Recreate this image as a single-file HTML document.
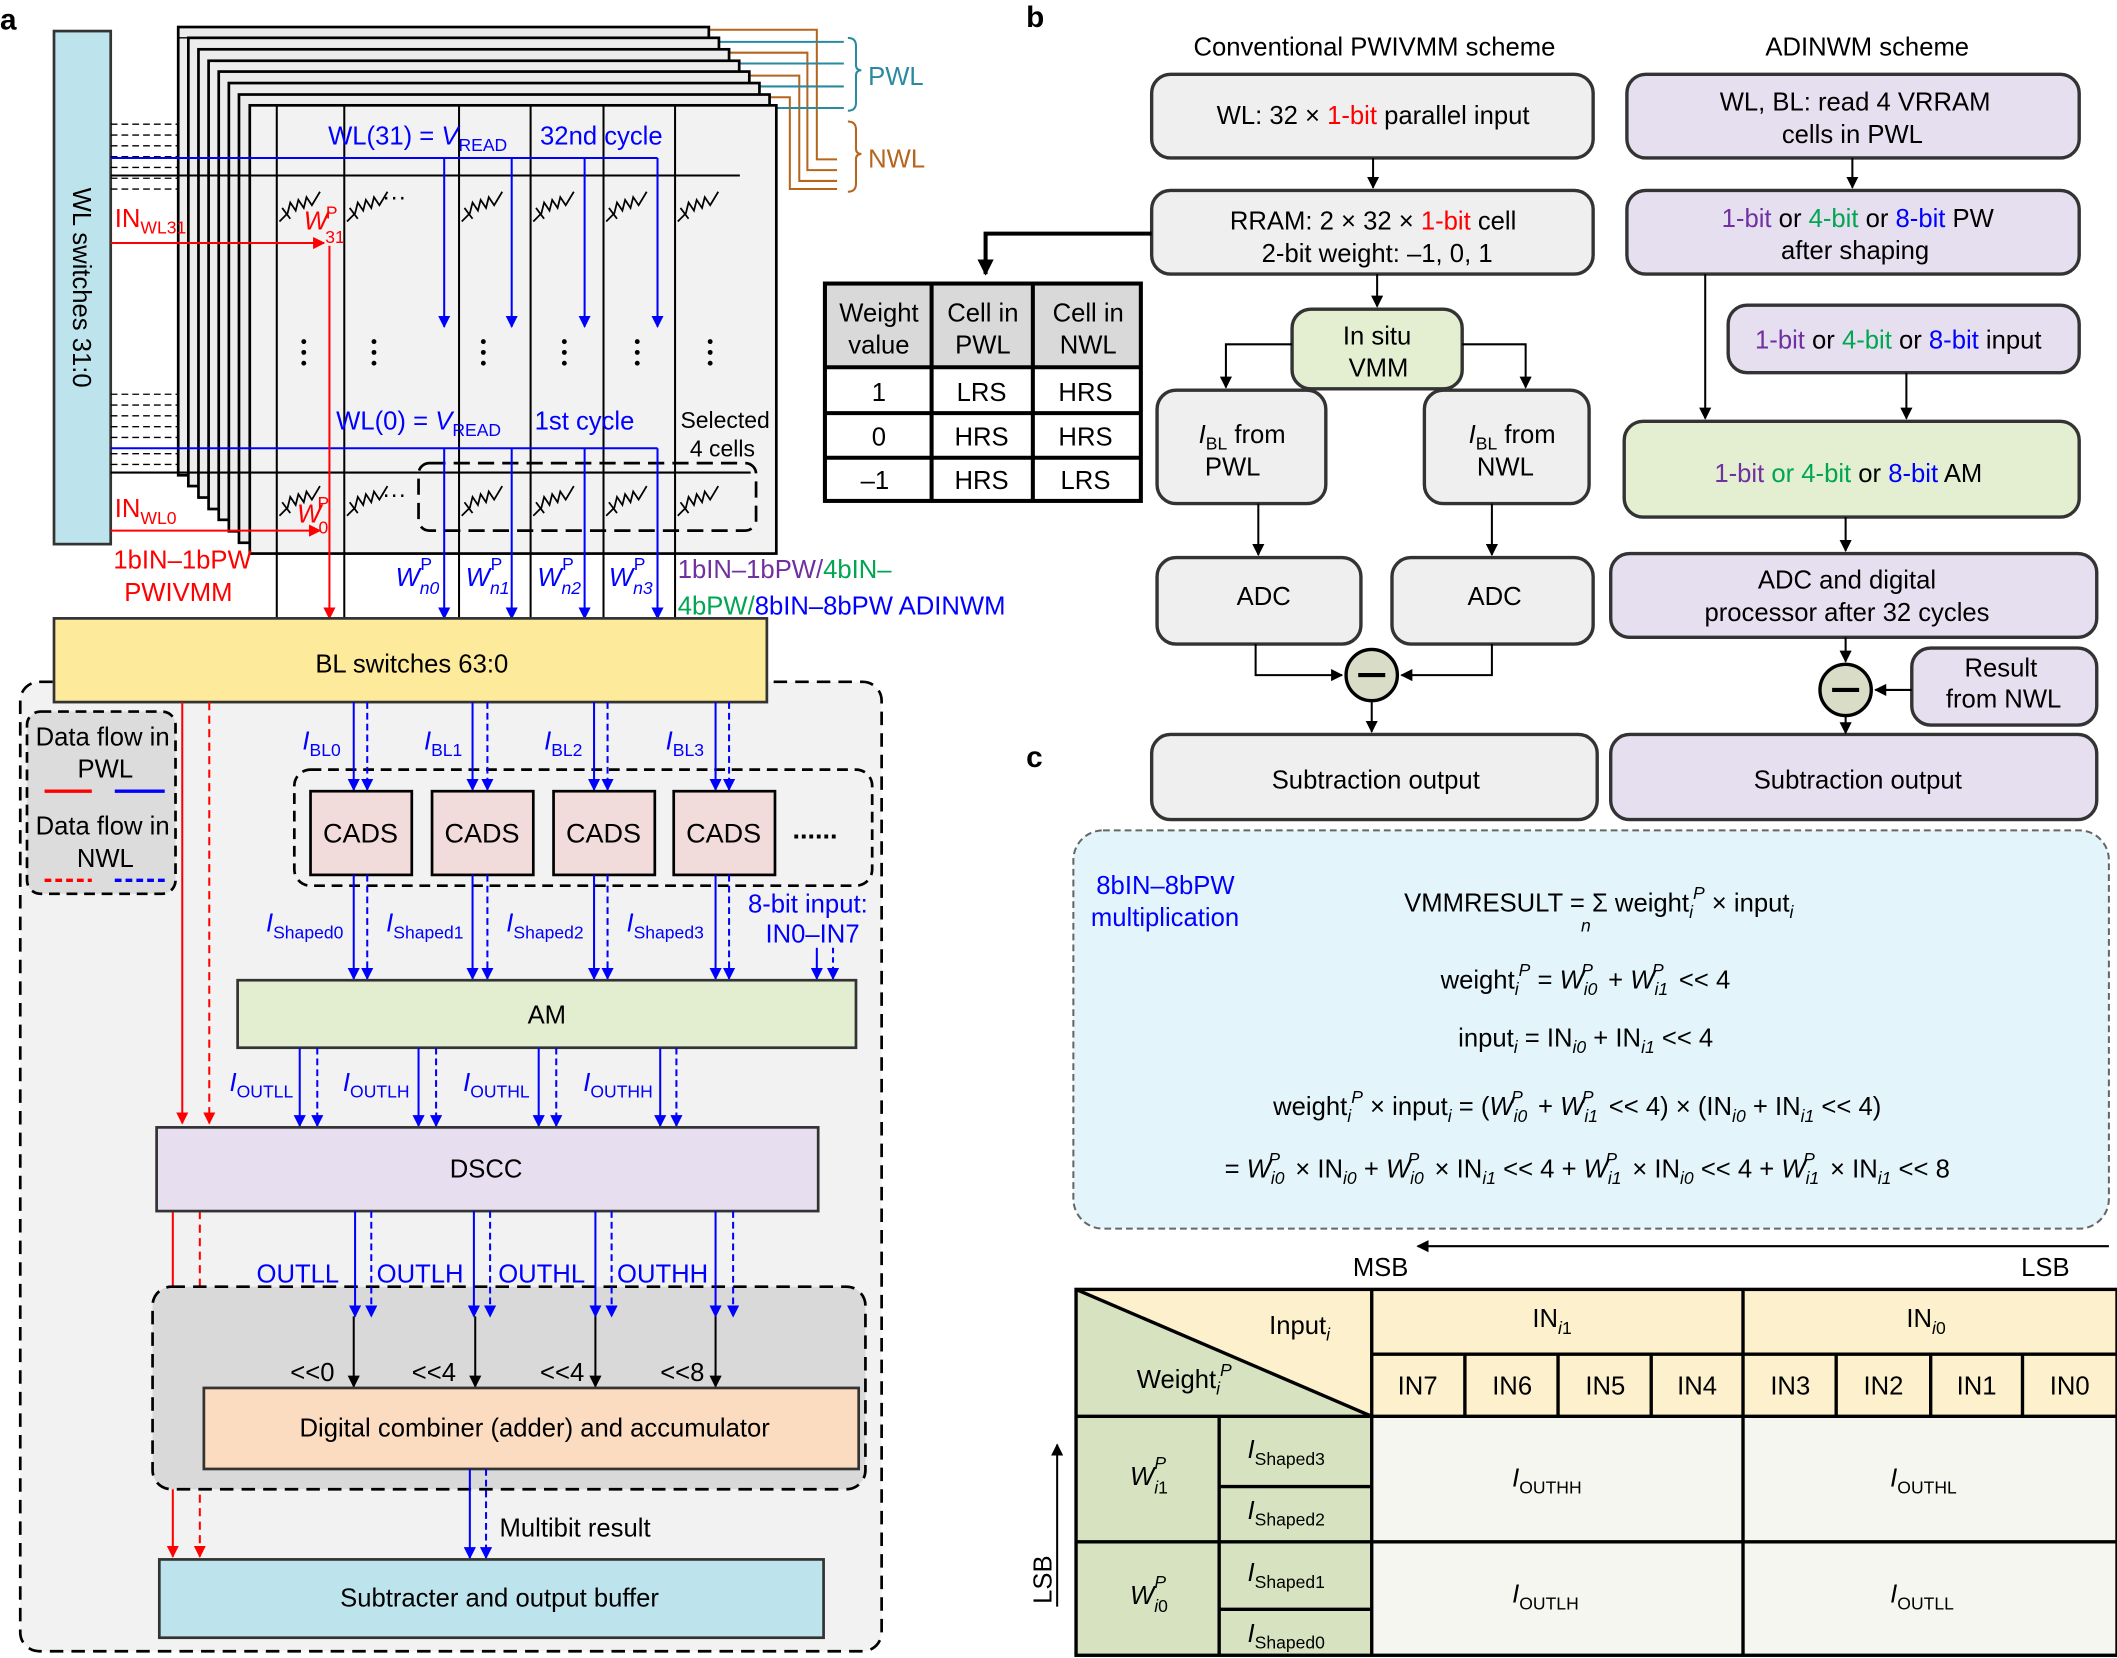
<!DOCTYPE html>
<html><head><meta charset="utf-8"><style>
html,body{margin:0;padding:0;background:#fff}
svg{display:block}
text{font-family:"Liberation Sans",sans-serif;font-size:19px;fill:#000}
.b{fill:#0000ff}.r{fill:#ff0000}.p{fill:#7030a0}.g{fill:#00a651}
.c{text-anchor:middle}
</style></head><body>
<svg width="2117" height="1658" viewBox="0 0 1568 1228" xmlns="http://www.w3.org/2000/svg">
<defs>
<marker id="ab" viewBox="0 0 10 10" refX="9" refY="5" markerWidth="6" markerHeight="6" orient="auto"><path d="M0,0L10,5L0,10z" fill="#0000ff"/></marker>
<marker id="ar" viewBox="0 0 10 10" refX="9" refY="5" markerWidth="6" markerHeight="6" orient="auto"><path d="M0,0L10,5L0,10z" fill="#ff0000"/></marker>
<marker id="ak" viewBox="0 0 10 10" refX="9" refY="5" markerWidth="6" markerHeight="6" orient="auto"><path d="M0,0L10,5L0,10z" fill="#000"/></marker>
<marker id="ak2" viewBox="0 0 10 10" refX="9" refY="5" markerWidth="4" markerHeight="4" orient="auto"><path d="M0,0L10,5L0,10z" fill="#000"/></marker>
<g id="res"><path d="M0,16 L6,10 L8,2 L12,8 L14,0 L18,6 L20,-2 L24,4 L30,-6" fill="none" stroke="#000" stroke-width="1.3"/><path d="M2,6 L8,14" stroke="#000" stroke-width="1.3"/></g>
</defs>

<!-- ===== Panel a ===== -->
<text x="0" y="22" style="font-weight:bold;font-size:22px">a</text>
<rect x="40" y="23" width="42" height="380" fill="#bde3ec" stroke="#333" stroke-width="2"/>
<text transform="translate(54,213) rotate(90)" class="c" style="font-size:19px">WL switches 31:0</text>

<!-- dashed WL stubs -->
<g stroke="#000" stroke-width="1" stroke-dasharray="5,3">
<line x1="82" y1="92" x2="140" y2="92"/><line x1="82" y1="100" x2="148" y2="100"/><line x1="82" y1="108" x2="155" y2="108"/><line x1="82" y1="116" x2="162" y2="116"/><line x1="82" y1="124" x2="170" y2="124"/><line x1="82" y1="132" x2="178" y2="132"/><line x1="82" y1="140" x2="185" y2="140"/>
<line x1="82" y1="292" x2="140" y2="292"/><line x1="82" y1="300" x2="148" y2="300"/><line x1="82" y1="308" x2="155" y2="308"/><line x1="82" y1="316" x2="162" y2="316"/><line x1="82" y1="324" x2="170" y2="324"/><line x1="82" y1="336" x2="178" y2="336"/><line x1="82" y1="344" x2="185" y2="344"/>
</g>

<!-- brackets PWL/NWL -->
<g fill="none" stroke-width="1.5">
<path d="M522,22 H605 V118 H620" stroke="#b5651d"/>
<path d="M530,31 H625" stroke="#2a8aa0"/>
<path d="M537,39 H598 V126 H620" stroke="#b5651d"/>
<path d="M545,47 H625" stroke="#2a8aa0"/>
<path d="M552,56 H592 V134 H620" stroke="#b5651d"/>
<path d="M560,64 H625" stroke="#2a8aa0"/>
<path d="M567,72 H585 V140 H620" stroke="#b5651d"/>
<path d="M575,80 H625" stroke="#2a8aa0"/>
<path d="M628,28 q6,0 6,6 v14 q0,4 4,4 q-4,0 -4,4 v20 q0,6 -6,6" stroke="#2a8aa0"/>
<path d="M628,90 q6,0 6,6 v14 q0,4 4,4 q-4,0 -4,4 v18 q0,6 -6,6" stroke="#b5651d"/>
</g>
<text x="643" y="63" style="fill:#2a8aa0">PWL</text>
<text x="643" y="124" style="fill:#b5651d">NWL</text>

<!-- layer stack -->
<g stroke="#000" stroke-width="2" fill="#ececec">
<rect x="132" y="20" width="393" height="332"/>
<rect x="139.5" y="28" width="393" height="332"/>
<rect x="147" y="36.5" width="393" height="332"/>
<rect x="154.5" y="45" width="393" height="332"/>
<rect x="162" y="53" width="393" height="332"/>
<rect x="169.5" y="61.5" width="393" height="332"/>
<rect x="177" y="70" width="393" height="332"/>
<rect x="185" y="78" width="390" height="332" fill="#f2f2f2"/>
</g>
<g stroke="#000" stroke-width="1">
<line x1="132" y1="28" x2="525" y2="28"/>
</g>
<!-- bit lines -->
<g stroke="#000" stroke-width="1.5">
<line x1="205" y1="78" x2="205" y2="458"/><line x1="255" y1="78" x2="255" y2="458"/><line x1="340" y1="78" x2="340" y2="458"/><line x1="393" y1="78" x2="393" y2="458"/><line x1="447" y1="78" x2="447" y2="458"/><line x1="500" y1="78" x2="500" y2="458"/>
<line x1="82" y1="130" x2="548" y2="130"/>
<line x1="82" y1="350" x2="556" y2="350"/>
</g>
<!-- resistors -->
<use href="#res" x="207" y="148"/><use href="#res" x="257" y="148"/><use href="#res" x="342" y="148"/><use href="#res" x="395" y="148"/><use href="#res" x="449" y="148"/><use href="#res" x="502" y="148"/>
<use href="#res" x="207" y="366"/><use href="#res" x="257" y="366"/><use href="#res" x="342" y="366"/><use href="#res" x="395" y="366"/><use href="#res" x="449" y="366"/><use href="#res" x="502" y="366"/>
<text x="283" y="152" style="font-size:18px">···</text>
<text x="283" y="372" style="font-size:18px">···</text>
<g fill="#000">
<circle cx="225" cy="253" r="1.8"/><circle cx="225" cy="261" r="1.8"/><circle cx="225" cy="269" r="1.8"/>
<circle cx="277" cy="253" r="1.8"/><circle cx="277" cy="261" r="1.8"/><circle cx="277" cy="269" r="1.8"/>
<circle cx="358" cy="253" r="1.8"/><circle cx="358" cy="261" r="1.8"/><circle cx="358" cy="269" r="1.8"/>
<circle cx="418" cy="253" r="1.8"/><circle cx="418" cy="261" r="1.8"/><circle cx="418" cy="269" r="1.8"/>
<circle cx="472" cy="253" r="1.8"/><circle cx="472" cy="261" r="1.8"/><circle cx="472" cy="269" r="1.8"/>
<circle cx="526" cy="253" r="1.8"/><circle cx="526" cy="261" r="1.8"/><circle cx="526" cy="269" r="1.8"/>
</g>
<rect x="310" y="343" width="250" height="50" rx="8" fill="none" stroke="#000" stroke-width="2" stroke-dasharray="12,6"/>
<!-- blue lines -->
<g stroke="#0000ff" stroke-width="1.5" fill="none">
<path d="M82,117 H487"/>
<line x1="329" y1="117" x2="329" y2="242" marker-end="url(#ab)"/><line x1="379" y1="117" x2="379" y2="242" marker-end="url(#ab)"/><line x1="433" y1="117" x2="433" y2="242" marker-end="url(#ab)"/><line x1="487" y1="117" x2="487" y2="242" marker-end="url(#ab)"/>
<path d="M82,332 H487"/>
<line x1="329" y1="332" x2="329" y2="458" marker-end="url(#ab)"/><line x1="379" y1="332" x2="379" y2="458" marker-end="url(#ab)"/><line x1="433" y1="332" x2="433" y2="458" marker-end="url(#ab)"/><line x1="487" y1="332" x2="487" y2="458" marker-end="url(#ab)"/>
</g>
<text x="243" y="107" class="b">WL(31) = <tspan font-style="italic">V</tspan><tspan dy="5" style="font-size:13px">READ</tspan></text>
<text x="400" y="107" class="b">32nd cycle</text>
<text x="249" y="318" class="b">WL(0) = <tspan font-style="italic">V</tspan><tspan dy="5" style="font-size:13px">READ</tspan></text>
<text x="396" y="318" class="b">1st cycle</text>
<text x="504" y="317" style="font-size:17px">Selected</text>
<text x="511" y="338" style="font-size:17px">4 cells</text>
<!-- red -->
<g stroke="#ff0000" stroke-width="1.5" fill="none">
<line x1="82" y1="180" x2="240" y2="180" marker-end="url(#ar)"/>
<line x1="244" y1="182" x2="244" y2="458" marker-end="url(#ar)"/>
<line x1="82" y1="393" x2="237" y2="393" marker-end="url(#ar)"/>
</g>
<text x="85" y="168" class="r">IN<tspan dy="5" style="font-size:13px">WL31</tspan></text>
<text x="225" y="170" class="r" font-style="italic">W<tspan dx="-2" dy="10" style="font-size:13px;font-style:normal">31</tspan><tspan dx="-14" dy="-18" style="font-size:13px;font-style:normal">P</tspan></text>
<text x="85" y="383" class="r">IN<tspan dy="5" style="font-size:13px">WL0</tspan></text>
<text x="220" y="387" class="r" font-style="italic">W<tspan dx="-2" dy="8" style="font-size:13px;font-style:normal">0</tspan><tspan dx="-8" dy="-18" style="font-size:13px;font-style:normal">P</tspan></text>
<text x="84" y="421" class="r">1bIN–1bPW</text>
<text x="92" y="445" class="r">PWIVMM</text>
<text x="293" y="434" class="b" font-style="italic">W<tspan dy="6" style="font-size:13px">n0</tspan><tspan dx="-14" dy="-18" style="font-size:13px;font-style:normal">P</tspan></text>
<text x="345" y="434" class="b" font-style="italic">W<tspan dy="6" style="font-size:13px">n1</tspan><tspan dx="-14" dy="-18" style="font-size:13px;font-style:normal">P</tspan></text>
<text x="398" y="434" class="b" font-style="italic">W<tspan dy="6" style="font-size:13px">n2</tspan><tspan dx="-14" dy="-18" style="font-size:13px;font-style:normal">P</tspan></text>
<text x="451" y="434" class="b" font-style="italic">W<tspan dy="6" style="font-size:13px">n3</tspan><tspan dx="-14" dy="-18" style="font-size:13px;font-style:normal">P</tspan></text>
<text x="502" y="428"><tspan class="p">1bIN–1bPW/</tspan><tspan class="g">4bIN–</tspan></text>
<text x="502" y="455"><tspan class="g">4bPW/</tspan><tspan class="b">8bIN–8bPW ADINWM</tspan></text>

<!-- big dashed area -->
<rect x="15" y="505" width="638" height="718" rx="14" fill="#f2f2f2" stroke="#000" stroke-width="2" stroke-dasharray="10,6"/>
<rect x="40" y="458" width="528" height="62" fill="#fdea9b" stroke="#333" stroke-width="2"/>
<text x="305" y="498" class="c">BL switches 63:0</text>

<!-- legend -->
<rect x="20" y="527" width="110" height="135" rx="10" fill="#dcdcdc" stroke="#000" stroke-width="2" stroke-dasharray="8,5"/>
<text x="76" y="552" class="c">Data flow in</text>
<text x="78" y="576" class="c">PWL</text>
<line x1="33" y1="586" x2="68" y2="586" stroke="#ff0000" stroke-width="2.5"/>
<line x1="85" y1="586" x2="122" y2="586" stroke="#0000ff" stroke-width="2.5"/>
<text x="76" y="618" class="c">Data flow in</text>
<text x="78" y="642" class="c">NWL</text>
<line x1="33" y1="652" x2="68" y2="652" stroke="#ff0000" stroke-width="2.5" stroke-dasharray="5,3"/>
<line x1="85" y1="652" x2="122" y2="652" stroke="#0000ff" stroke-width="2.5" stroke-dasharray="5,3"/>

<!-- red long lines -->
<g stroke="#ff0000" stroke-width="1.5">
<line x1="135" y1="520" x2="135" y2="832" marker-end="url(#ar)"/>
<line x1="155" y1="520" x2="155" y2="832" stroke-dasharray="6,4" marker-end="url(#ar)"/>
<line x1="128" y1="897" x2="128" y2="1153" marker-end="url(#ar)"/>
<line x1="148" y1="897" x2="148" y2="1153" stroke-dasharray="6,4" marker-end="url(#ar)"/>
</g>

<!-- CADS -->
<rect x="218" y="570" width="428" height="86" rx="12" fill="none" stroke="#000" stroke-width="2" stroke-dasharray="8,5"/>
<g stroke="#0000ff" stroke-width="1.5">
<line x1="262" y1="520" x2="262" y2="585" marker-end="url(#ab)"/><line x1="272" y1="520" x2="272" y2="585" stroke-dasharray="5,3" marker-end="url(#ab)"/>
<line x1="350" y1="520" x2="350" y2="585" marker-end="url(#ab)"/><line x1="361" y1="520" x2="361" y2="585" stroke-dasharray="5,3" marker-end="url(#ab)"/>
<line x1="440" y1="520" x2="440" y2="585" marker-end="url(#ab)"/><line x1="450" y1="520" x2="450" y2="585" stroke-dasharray="5,3" marker-end="url(#ab)"/>
<line x1="530" y1="520" x2="530" y2="585" marker-end="url(#ab)"/><line x1="540" y1="520" x2="540" y2="585" stroke-dasharray="5,3" marker-end="url(#ab)"/>
</g>
<text x="224" y="555" class="b"><tspan font-style="italic">I</tspan><tspan dy="5" style="font-size:13px">BL0</tspan></text>
<text x="314" y="555" class="b"><tspan font-style="italic">I</tspan><tspan dy="5" style="font-size:13px">BL1</tspan></text>
<text x="403" y="555" class="b"><tspan font-style="italic">I</tspan><tspan dy="5" style="font-size:13px">BL2</tspan></text>
<text x="493" y="555" class="b"><tspan font-style="italic">I</tspan><tspan dy="5" style="font-size:13px">BL3</tspan></text>
<g fill="#f2dcdb" stroke="#000" stroke-width="2">
<rect x="230" y="586" width="75" height="62"/><rect x="320" y="586" width="75" height="62"/><rect x="410" y="586" width="75" height="62"/><rect x="499" y="586" width="75" height="62"/>
</g>
<text x="267" y="624" class="c" style="font-size:20px">CADS</text>
<text x="357" y="624" class="c" style="font-size:20px">CADS</text>
<text x="447" y="624" class="c" style="font-size:20px">CADS</text>
<text x="536" y="624" class="c" style="font-size:20px">CADS</text>
<text x="587" y="621" style="font-size:20px;font-weight:bold">......</text>

<g stroke="#0000ff" stroke-width="1.5">
<line x1="262" y1="648" x2="262" y2="725" marker-end="url(#ab)"/><line x1="272" y1="648" x2="272" y2="725" stroke-dasharray="5,3" marker-end="url(#ab)"/>
<line x1="350" y1="648" x2="350" y2="725" marker-end="url(#ab)"/><line x1="361" y1="648" x2="361" y2="725" stroke-dasharray="5,3" marker-end="url(#ab)"/>
<line x1="440" y1="648" x2="440" y2="725" marker-end="url(#ab)"/><line x1="450" y1="648" x2="450" y2="725" stroke-dasharray="5,3" marker-end="url(#ab)"/>
<line x1="530" y1="648" x2="530" y2="725" marker-end="url(#ab)"/><line x1="540" y1="648" x2="540" y2="725" stroke-dasharray="5,3" marker-end="url(#ab)"/>
<line x1="605" y1="702" x2="605" y2="725" marker-end="url(#ab)"/><line x1="617" y1="702" x2="617" y2="725" stroke-dasharray="4,3" marker-end="url(#ab)"/>
</g>
<text x="197" y="690" class="b"><tspan font-style="italic">I</tspan><tspan dy="5" style="font-size:13px">Shaped0</tspan></text>
<text x="286" y="690" class="b"><tspan font-style="italic">I</tspan><tspan dy="5" style="font-size:13px">Shaped1</tspan></text>
<text x="375" y="690" class="b"><tspan font-style="italic">I</tspan><tspan dy="5" style="font-size:13px">Shaped2</tspan></text>
<text x="464" y="690" class="b"><tspan font-style="italic">I</tspan><tspan dy="5" style="font-size:13px">Shaped3</tspan></text>
<text x="554" y="676" class="b">8-bit input:</text>
<text x="567" y="698" class="b">IN0–IN7</text>

<rect x="176" y="726" width="458" height="50" fill="#e3edcf" stroke="#333" stroke-width="2"/>
<text x="405" y="758" class="c">AM</text>

<g stroke="#0000ff" stroke-width="1.5">
<line x1="222" y1="776" x2="222" y2="834" marker-end="url(#ab)"/><line x1="235" y1="776" x2="235" y2="834" stroke-dasharray="5,3" marker-end="url(#ab)"/>
<line x1="310" y1="776" x2="310" y2="834" marker-end="url(#ab)"/><line x1="323" y1="776" x2="323" y2="834" stroke-dasharray="5,3" marker-end="url(#ab)"/>
<line x1="399" y1="776" x2="399" y2="834" marker-end="url(#ab)"/><line x1="412" y1="776" x2="412" y2="834" stroke-dasharray="5,3" marker-end="url(#ab)"/>
<line x1="489" y1="776" x2="489" y2="834" marker-end="url(#ab)"/><line x1="501" y1="776" x2="501" y2="834" stroke-dasharray="5,3" marker-end="url(#ab)"/>
</g>
<text x="170" y="808" class="b"><tspan font-style="italic">I</tspan><tspan dy="5" style="font-size:13px">OUTLL</tspan></text>
<text x="254" y="808" class="b"><tspan font-style="italic">I</tspan><tspan dy="5" style="font-size:13px">OUTLH</tspan></text>
<text x="343" y="808" class="b"><tspan font-style="italic">I</tspan><tspan dy="5" style="font-size:13px">OUTHL</tspan></text>
<text x="432" y="808" class="b"><tspan font-style="italic">I</tspan><tspan dy="5" style="font-size:13px">OUTHH</tspan></text>

<rect x="116" y="835" width="490" height="62" fill="#e7dff0" stroke="#333" stroke-width="2"/>
<text x="360" y="872" class="c">DSCC</text>

<rect x="113" y="953" width="528" height="150" rx="14" fill="#d9d9d9" stroke="#000" stroke-width="2" stroke-dasharray="10,6"/>
<g stroke="#0000ff" stroke-width="1.5">
<line x1="263" y1="897" x2="263" y2="975" marker-end="url(#ab)"/><line x1="275" y1="897" x2="275" y2="975" stroke-dasharray="5,3" marker-end="url(#ab)"/>
<line x1="351" y1="897" x2="351" y2="975" marker-end="url(#ab)"/><line x1="363" y1="897" x2="363" y2="975" stroke-dasharray="5,3" marker-end="url(#ab)"/>
<line x1="441" y1="897" x2="441" y2="975" marker-end="url(#ab)"/><line x1="453" y1="897" x2="453" y2="975" stroke-dasharray="5,3" marker-end="url(#ab)"/>
<line x1="530" y1="897" x2="530" y2="975" marker-end="url(#ab)"/><line x1="543" y1="897" x2="543" y2="975" stroke-dasharray="5,3" marker-end="url(#ab)"/>
</g>
<text x="190" y="950" class="b">OUTLL</text>
<text x="279" y="950" class="b">OUTLH</text>
<text x="369" y="950" class="b">OUTHL</text>
<text x="457" y="950" class="b">OUTHH</text>
<g stroke="#000" stroke-width="1.5">
<line x1="262" y1="975" x2="262" y2="1027" marker-end="url(#ak)"/>
<line x1="352" y1="975" x2="352" y2="1027" marker-end="url(#ak)"/>
<line x1="441" y1="975" x2="441" y2="1027" marker-end="url(#ak)"/>
<line x1="530" y1="975" x2="530" y2="1027" marker-end="url(#ak)"/>
</g>
<text x="215" y="1023">&lt;&lt;0</text>
<text x="305" y="1023">&lt;&lt;4</text>
<text x="400" y="1023">&lt;&lt;4</text>
<text x="489" y="1023">&lt;&lt;8</text>
<rect x="151" y="1028" width="485" height="60" fill="#fbdcc0" stroke="#333" stroke-width="2"/>
<text x="396" y="1064" class="c">Digital combiner (adder) and accumulator</text>
<g stroke="#0000ff" stroke-width="1.5">
<line x1="348" y1="1088" x2="348" y2="1154" marker-end="url(#ab)"/>
<line x1="360" y1="1088" x2="360" y2="1154" stroke-dasharray="5,3" marker-end="url(#ab)"/>
</g>
<text x="370" y="1138">Multibit result</text>
<rect x="118" y="1155" width="492" height="58" fill="#bde3ec" stroke="#333" stroke-width="2"/>
<text x="370" y="1190" class="c">Subtracter and output buffer</text>

<!-- ===== Panel b ===== -->
<text x="760" y="20" style="font-weight:bold;font-size:22px">b</text>
<text x="1018" y="41" class="c">Conventional PWIVMM scheme</text>
<text x="1383" y="41" class="c">ADINWM scheme</text>
<g stroke="#333" stroke-width="2.5" fill="#efefef">
<rect x="853" y="55" width="327" height="62" rx="14"/>
<rect x="853" y="141" width="327" height="62" rx="14"/>
<rect x="857" y="289" width="125" height="84" rx="14"/>
<rect x="1055" y="289" width="122" height="84" rx="14"/>
<rect x="857" y="413" width="151" height="64" rx="14"/>
<rect x="1031" y="413" width="149" height="64" rx="14"/>
<rect x="853" y="544" width="330" height="63" rx="14"/>
<rect x="957" y="229" width="126" height="59" rx="14" fill="#e3efd0"/>
</g>
<g stroke="#333" stroke-width="2.5" fill="#e6dff0">
<rect x="1205" y="55" width="335" height="62" rx="14"/>
<rect x="1205" y="141" width="335" height="62" rx="14"/>
<rect x="1280" y="226" width="260" height="50" rx="14"/>
<rect x="1203" y="312" width="337" height="71" rx="14" fill="#e3efd0"/>
<rect x="1193" y="410" width="360" height="62" rx="14"/>
<rect x="1416" y="480" width="137" height="57" rx="14"/>
<rect x="1193" y="544" width="360" height="63" rx="14"/>
</g>
<text x="1017" y="92" class="c">WL: 32 × <tspan class="r">1-bit</tspan> parallel input</text>
<text x="1017" y="170" class="c">RRAM: 2 × 32 × <tspan class="r">1-bit</tspan> cell</text>
<text x="1020" y="194" class="c">2-bit weight:  –1, 0, 1</text>
<text x="1020" y="255" class="c">In situ</text>
<text x="1021" y="279" class="c">VMM</text>
<text x="920" y="328" class="c"><tspan font-style="italic">I</tspan><tspan dy="5" style="font-size:13px">BL</tspan><tspan dy="-5"> from</tspan></text>
<text x="913" y="352" class="c">PWL</text>
<text x="1120" y="328" class="c"><tspan font-style="italic">I</tspan><tspan dy="5" style="font-size:13px">BL</tspan><tspan dy="-5"> from</tspan></text>
<text x="1115" y="352" class="c">NWL</text>
<text x="936" y="448" class="c">ADC</text>
<text x="1107" y="448" class="c">ADC</text>
<text x="1019" y="584" class="c">Subtraction output</text>

<g stroke="#000" stroke-width="1.5" fill="none">
<line x1="1017" y1="117" x2="1017" y2="139" marker-end="url(#ak)"/>
<line x1="1020" y1="203" x2="1020" y2="227" marker-end="url(#ak)"/>
<path d="M957,255 H908 V287" marker-end="url(#ak)"/>
<path d="M1083,255 H1130 V287" marker-end="url(#ak)"/>
<line x1="932" y1="373" x2="932" y2="411" marker-end="url(#ak)"/>
<line x1="1105" y1="373" x2="1105" y2="411" marker-end="url(#ak)"/>
<path d="M930,477 V500 H994" marker-end="url(#ak)"/>
<path d="M1105,477 V500 H1038" marker-end="url(#ak)"/>
<line x1="1016" y1="520" x2="1016" y2="542" marker-end="url(#ak)"/>
<line x1="1372" y1="117" x2="1372" y2="139" marker-end="url(#ak)"/>
<line x1="1263" y1="203" x2="1263" y2="310" marker-end="url(#ak)"/>
<line x1="1412" y1="276" x2="1412" y2="310" marker-end="url(#ak)"/>
<line x1="1367" y1="383" x2="1367" y2="408" marker-end="url(#ak)"/>
<line x1="1367" y1="472" x2="1367" y2="490" marker-end="url(#ak)"/>
<line x1="1416" y1="511" x2="1389" y2="511" marker-end="url(#ak)"/>
<line x1="1367" y1="531" x2="1367" y2="543" marker-end="url(#ak)"/>
</g>
<path d="M853,173 H730 V203" stroke="#000" stroke-width="3" fill="none" marker-end="url(#ak2)"/>
<g stroke="#000" stroke-width="2.5" fill="#d9dcc7">
<circle cx="1016" cy="500" r="19"/><circle cx="1367" cy="511" r="19"/>
</g>
<line x1="1006" y1="500" x2="1026" y2="500" stroke="#000" stroke-width="3"/>
<line x1="1357" y1="511" x2="1377" y2="511" stroke="#000" stroke-width="3"/>

<text x="1374" y="82" class="c">WL, BL: read 4 VRRAM</text>
<text x="1372" y="106" class="c">cells in PWL</text>
<text x="1376" y="168" class="c"><tspan class="p">1-bit</tspan> or <tspan class="g">4-bit</tspan> or <tspan class="b">8-bit</tspan> PW</text>
<text x="1374" y="192" class="c">after shaping</text>
<text x="1406" y="258" class="c"><tspan class="p">1-bit</tspan> or <tspan class="g">4-bit</tspan> or <tspan class="b">8-bit</tspan> input</text>
<text x="1369" y="357" class="c"><tspan class="p">1-bit</tspan><tspan class="g"> or 4-bit</tspan> or <tspan class="b">8-bit</tspan> AM</text>
<text x="1368" y="436" class="c">ADC and digital</text>
<text x="1368" y="460" class="c">processor after 32 cycles</text>
<text x="1482" y="501" class="c">Result</text>
<text x="1484" y="524" class="c">from NWL</text>
<text x="1376" y="584" class="c">Subtraction output</text>

<!-- table -->
<rect x="611" y="210" width="234" height="62" fill="#d9d9d9"/>
<g stroke="#000" stroke-width="3" fill="none">
<rect x="611" y="210" width="234" height="161"/>
<line x1="690" y1="210" x2="690" y2="371"/><line x1="765" y1="210" x2="765" y2="371"/>
<line x1="611" y1="272" x2="845" y2="272"/><line x1="611" y1="306" x2="845" y2="306"/><line x1="611" y1="339" x2="845" y2="339"/>
</g>
<text x="651" y="238" class="c">Weight</text><text x="651" y="262" class="c">value</text>
<text x="728" y="238" class="c">Cell in</text><text x="728" y="262" class="c">PWL</text>
<text x="806" y="238" class="c">Cell in</text><text x="806" y="262" class="c">NWL</text>
<text x="651" y="297" class="c">1</text><text x="727" y="297" class="c">LRS</text><text x="804" y="297" class="c">HRS</text>
<text x="651" y="330" class="c">0</text><text x="727" y="330" class="c">HRS</text><text x="804" y="330" class="c">HRS</text>
<text x="648" y="362" class="c">–1</text><text x="727" y="362" class="c">HRS</text><text x="804" y="362" class="c">LRS</text>

<!-- ===== Panel c ===== -->
<text x="760" y="568" style="font-weight:bold;font-size:22px">c</text>
<rect x="795" y="615" width="767" height="295" rx="22" fill="#e3f5fb" stroke="#666" stroke-width="1.5" stroke-dasharray="5,3"/>
<text x="812" y="662" class="b">8bIN–8bPW</text>
<text x="808" y="686" class="b">multiplication</text>
<text x="1040" y="675">VMMRESULT = Σ weight<tspan dy="5" style="font-size:13px;font-style:italic">i</tspan><tspan dy="-14" style="font-size:13px;font-style:italic">P</tspan><tspan dy="9"> × input</tspan><tspan dy="5" style="font-size:13px;font-style:italic">i</tspan></text>
<text x="1171" y="690" style="font-size:13px;font-style:italic">n</text>
<text x="1067" y="732">weight<tspan dy="5" style="font-size:13px;font-style:italic">i</tspan><tspan dy="-14" style="font-size:13px;font-style:italic">P</tspan><tspan dy="9"> = </tspan><tspan font-style="italic">W</tspan><tspan dy="5" style="font-size:13px;font-style:italic">i0</tspan><tspan dy="-14" dx="-12" style="font-size:13px;font-style:italic">P</tspan><tspan dy="9" dx="6"> + </tspan><tspan font-style="italic">W</tspan><tspan dy="5" style="font-size:13px;font-style:italic">i1</tspan><tspan dy="-14" dx="-12" style="font-size:13px;font-style:italic">P</tspan><tspan dy="9" dx="6"> &lt;&lt; 4</tspan></text>
<text x="1080" y="775">input<tspan dy="5" style="font-size:13px;font-style:italic">i</tspan><tspan dy="-5"> = IN</tspan><tspan dy="5" style="font-size:13px;font-style:italic">i0</tspan><tspan dy="-5"> + IN</tspan><tspan dy="5" style="font-size:13px;font-style:italic">i1</tspan><tspan dy="-5"> &lt;&lt; 4</tspan></text>
<text x="943" y="826">weight<tspan dy="5" style="font-size:13px;font-style:italic">i</tspan><tspan dy="-14" style="font-size:13px;font-style:italic">P</tspan><tspan dy="9"> × input</tspan><tspan dy="5" style="font-size:13px;font-style:italic">i</tspan><tspan dy="-5"> = (</tspan><tspan font-style="italic">W</tspan><tspan dy="5" style="font-size:13px;font-style:italic">i0</tspan><tspan dy="-14" dx="-12" style="font-size:13px;font-style:italic">P</tspan><tspan dy="9" dx="6"> + </tspan><tspan font-style="italic">W</tspan><tspan dy="5" style="font-size:13px;font-style:italic">i1</tspan><tspan dy="-14" dx="-12" style="font-size:13px;font-style:italic">P</tspan><tspan dy="9" dx="6"> &lt;&lt; 4) × (IN</tspan><tspan dy="5" style="font-size:13px;font-style:italic">i0</tspan><tspan dy="-5"> + IN</tspan><tspan dy="5" style="font-size:13px;font-style:italic">i1</tspan><tspan dy="-5"> &lt;&lt; 4)</tspan></text>
<text x="907" y="872">= <tspan font-style="italic">W</tspan><tspan dy="5" style="font-size:13px;font-style:italic">i0</tspan><tspan dy="-14" dx="-12" style="font-size:13px;font-style:italic">P</tspan><tspan dy="9" dx="6"> × IN</tspan><tspan dy="5" style="font-size:13px;font-style:italic">i0</tspan><tspan dy="-5"> + </tspan><tspan font-style="italic">W</tspan><tspan dy="5" style="font-size:13px;font-style:italic">i0</tspan><tspan dy="-14" dx="-12" style="font-size:13px;font-style:italic">P</tspan><tspan dy="9" dx="6"> × IN</tspan><tspan dy="5" style="font-size:13px;font-style:italic">i1</tspan><tspan dy="-5"> &lt;&lt; 4 + </tspan><tspan font-style="italic">W</tspan><tspan dy="5" style="font-size:13px;font-style:italic">i1</tspan><tspan dy="-14" dx="-12" style="font-size:13px;font-style:italic">P</tspan><tspan dy="9" dx="6"> × IN</tspan><tspan dy="5" style="font-size:13px;font-style:italic">i0</tspan><tspan dy="-5"> &lt;&lt; 4 + </tspan><tspan font-style="italic">W</tspan><tspan dy="5" style="font-size:13px;font-style:italic">i1</tspan><tspan dy="-14" dx="-12" style="font-size:13px;font-style:italic">P</tspan><tspan dy="9" dx="6"> × IN</tspan><tspan dy="5" style="font-size:13px;font-style:italic">i1</tspan><tspan dy="-5"> &lt;&lt; 8</tspan></text>

<line x1="1562" y1="923" x2="1050" y2="923" stroke="#000" stroke-width="1.5" marker-end="url(#ak)"/>
<text x="1002" y="945">MSB</text>
<text x="1497" y="945">LSB</text>
<line x1="783" y1="1190" x2="783" y2="1070" stroke="#000" stroke-width="1.5" marker-end="url(#ak)"/>
<text transform="translate(779,1170) rotate(-90)" class="c">LSB</text>

<rect x="797" y="955" width="771" height="94" fill="#fdf0cc"/>
<polygon points="797,955 1016,1049 797,1049" fill="#d7e3c0"/>
<rect x="797" y="1049" width="219" height="177" fill="#d7e3c0"/>
<rect x="1016" y="1049" width="552" height="177" fill="#f5f6f0"/>
<g stroke="#000" stroke-width="2.5" fill="none">
<rect x="797" y="955" width="771" height="271"/>
<line x1="797" y1="955" x2="1016" y2="1049"/>
<line x1="1016" y1="955" x2="1016" y2="1226"/>
<line x1="1291" y1="955" x2="1291" y2="1226"/>
<line x1="1016" y1="1003" x2="1568" y2="1003"/>
<line x1="797" y1="1049" x2="1568" y2="1049"/>
<line x1="797" y1="1142" x2="1568" y2="1142"/>
<line x1="903" y1="1049" x2="903" y2="1226"/>
<line x1="903" y1="1101" x2="1016" y2="1101"/>
<line x1="903" y1="1192" x2="1016" y2="1192"/>
<line x1="1085" y1="1003" x2="1085" y2="1049"/><line x1="1154" y1="1003" x2="1154" y2="1049"/><line x1="1223" y1="1003" x2="1223" y2="1049"/>
<line x1="1360" y1="1003" x2="1360" y2="1049"/><line x1="1430" y1="1003" x2="1430" y2="1049"/><line x1="1498" y1="1003" x2="1498" y2="1049"/>
</g>
<text x="940" y="988">Input<tspan dy="5" style="font-size:13px;font-style:italic">i</tspan></text>
<text x="842" y="1028">Weight<tspan dy="5" style="font-size:13px;font-style:italic">i</tspan><tspan dy="-14" style="font-size:13px;font-style:italic">P</tspan></text>
<text x="1135" y="983">IN<tspan dy="5" style="font-size:13px;font-style:italic">i</tspan><tspan style="font-size:13px">1</tspan></text>
<text x="1412" y="983">IN<tspan dy="5" style="font-size:13px;font-style:italic">i</tspan><tspan style="font-size:13px">0</tspan></text>
<text x="1050" y="1033" class="c">IN7</text><text x="1120" y="1033" class="c">IN6</text><text x="1189" y="1033" class="c">IN5</text><text x="1257" y="1033" class="c">IN4</text>
<text x="1326" y="1033" class="c">IN3</text><text x="1395" y="1033" class="c">IN2</text><text x="1464" y="1033" class="c">IN1</text><text x="1533" y="1033" class="c">IN0</text>
<text x="837" y="1100" font-style="italic">W<tspan dy="6" style="font-size:13px">i</tspan><tspan style="font-size:13px;font-style:normal">1</tspan><tspan dx="-10" dy="-18" style="font-size:13px">P</tspan></text>
<text x="837" y="1188" font-style="italic">W<tspan dy="6" style="font-size:13px">i</tspan><tspan style="font-size:13px;font-style:normal">0</tspan><tspan dx="-10" dy="-18" style="font-size:13px">P</tspan></text>
<text x="924" y="1080"><tspan font-style="italic">I</tspan><tspan dy="5" style="font-size:13px">Shaped3</tspan></text>
<text x="924" y="1125"><tspan font-style="italic">I</tspan><tspan dy="5" style="font-size:13px">Shaped2</tspan></text>
<text x="924" y="1171"><tspan font-style="italic">I</tspan><tspan dy="5" style="font-size:13px">Shaped1</tspan></text>
<text x="924" y="1216"><tspan font-style="italic">I</tspan><tspan dy="5" style="font-size:13px">Shaped0</tspan></text>
<text x="1120" y="1101"><tspan font-style="italic">I</tspan><tspan dy="5" style="font-size:13px">OUTHH</tspan></text>
<text x="1400" y="1101"><tspan font-style="italic">I</tspan><tspan dy="5" style="font-size:13px">OUTHL</tspan></text>
<text x="1120" y="1187"><tspan font-style="italic">I</tspan><tspan dy="5" style="font-size:13px">OUTLH</tspan></text>
<text x="1400" y="1187"><tspan font-style="italic">I</tspan><tspan dy="5" style="font-size:13px">OUTLL</tspan></text>
</svg>
</body></html>
